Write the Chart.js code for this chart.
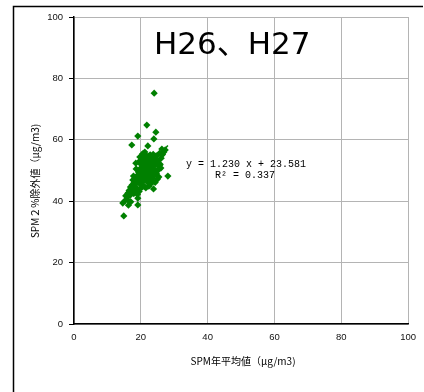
<!DOCTYPE html>
<html>
<head>
<meta charset="utf-8">
<script src="https://cdn.jsdelivr.net/npm/chart.js@4/dist/chart.umd.min.js"></script>
<style>
html,body{margin:0;padding:0;background:#fff;overflow:hidden;}
canvas{display:block;}
</style>
</head>
<body>
<canvas id="c" width="424" height="392" style="width:424px;height:392px;"></canvas>
<script>
// ---- data ----
const chartTitle = "H26、H27";
const xAxisTitle = "SPM年平均値（μg/m3)";
const yAxisTitle = "SPM２%除外値（μg/m3)";
const xTicks = [0, 20, 40, 60, 80, 100];
const yTicks = [0, 20, 40, 60, 80, 100];
const spmAnnualMean = [
  24.0,21.8,24.5,19.1,23.9,17.3,22.1,26.3,28.1,25.4,26.0,23.6,14.9,14.6,15.8,19.1,19.1,17.6,18.5,19.7,
  15.2,15.6,16.0,16.2,16.5,16.8,16.9,17.2,17.4,17.7,17.9,18.0,18.2,18.4,18.5,18.7,18.9,19.0,19.2,19.3,
  19.5,19.6,19.8,19.9,20.0,20.1,20.2,20.3,20.4,20.5,20.6,20.7,20.8,20.9,21.0,21.0,21.1,21.2,21.3,21.4,
  21.5,21.5,21.6,21.7,21.8,21.9,22.0,22.0,22.1,22.2,22.3,22.4,22.5,22.6,22.7,22.8,22.9,23.0,23.1,23.2,
  23.3,23.4,23.5,23.6,23.7,23.8,24.0,24.1,24.2,24.3,24.4,24.6,24.7,24.9,25.0,25.2,25.4,25.6,25.8,26.1,
  26.5,26.9,27.3,19.4,18.6,17.8,20.5,21.2,19.0,20.3,17.0,16.3,22.4,23.8,25.1,25.7,20.6
];
const spm2PctExcluded = [
  75.2,64.8,62.5,61.2,60.3,58.3,58.0,57.0,48.2,47.9,50.8,46.6,35.2,39.4,41.4,41.0,38.8,46.9,52.4,54.4,
  40.1,41.8,40.5,42.7,43.5,41.9,44.6,43.0,45.3,44.2,42.5,46.0,44.8,47.5,43.6,45.9,48.3,44.0,46.8,49.5,
  43.2,47.9,50.6,45.4,48.7,52.0,46.3,50.1,53.3,47.6,49.3,51.6,54.5,45.0,48.2,50.8,53.0,46.9,49.7,52.3,
  55.0,44.3,47.8,51.2,53.8,49.0,50.5,46.2,52.7,54.6,48.4,51.9,47.0,53.4,50.0,55.1,48.9,52.2,45.8,54.0,
  50.7,47.5,53.1,49.6,55.3,51.4,48.3,53.7,50.2,46.1,52.5,54.8,49.1,51.8,47.2,53.2,50.4,55.6,52.0,54.0,
  55.2,56.0,56.7,52.8,50.5,48.2,55.4,56.0,42.2,44.5,39.8,38.7,44.9,44.0,50.2,51.8,46.9
];
const trendSlope = 1.230;
const trendIntercept = 23.581;
const trendR2 = 0.337;
const trendXRange = [14.6, 28.1];

const points = spmAnnualMean.map((x, i) => ({x: x, y: spm2PctExcluded[i]}));
const trendPoints = trendXRange.map(x => ({x: x, y: trendSlope * x + trendIntercept}));

const GREEN = '#008000';

const decor = {
  id: 'decor',
  beforeDraw(chart) {
    const ctx = chart.ctx;
    ctx.save();
    ctx.fillStyle = '#fff';
    ctx.fillRect(0, 0, chart.width, chart.height);
    ctx.restore();
  },
  afterDraw(chart) {
    const ctx = chart.ctx;
    const a = chart.chartArea;
    ctx.save();
    // outer frame (left and top visible)
    ctx.strokeStyle = '#000';
    ctx.lineWidth = 1.5;
    ctx.beginPath();
    ctx.moveTo(13.5, 392);
    ctx.lineTo(13.5, 6.5);
    ctx.lineTo(423, 6.5);
    ctx.stroke();

    // big title
    ctx.fillStyle = '#000';
    ctx.font = '31px "DejaVu Sans", "Noto Sans CJK JP", sans-serif';
    ctx.textAlign = 'left';
    ctx.textBaseline = 'alphabetic';
    ctx.fillText(chartTitle, 154, 54);

    // regression equation
    ctx.font = '10px "Liberation Mono", "DejaVu Sans Mono", monospace';
    ctx.textAlign = 'left';
    ctx.textBaseline = 'middle';
    ctx.fillText('y = ' + trendSlope.toFixed(3) + ' x + ' + trendIntercept.toFixed(3), 186, 164);
    ctx.fillText('R² = ' + trendR2.toFixed(3), 215, 175);

    // axis titles
    ctx.font = '10px "Noto Sans CJK JP", sans-serif';
    ctx.textAlign = 'center';
    ctx.textBaseline = 'middle';
    ctx.fillText(xAxisTitle, (a.left + a.right) / 2 + 2, 361);
    ctx.translate(35, 181);
    ctx.rotate(-Math.PI / 2);
    ctx.fillText(yAxisTitle, 0, 0);
    ctx.restore();
  }
};

new Chart(document.getElementById('c'), {
  type: 'scatter',
  data: {
    datasets: [
      {
        label: 'SPM',
        data: points,
        backgroundColor: GREEN,
        borderColor: GREEN,
        borderWidth: 0,
        pointStyle: 'rectRot',
        pointRadius: 3.6,
        order: 2
      },
      {
        type: 'line',
        label: 'trend',
        data: trendPoints,
        borderColor: GREEN,
        borderWidth: 1.5,
        pointRadius: 0,
        fill: false,
        showLine: true,
        order: 1
      }
    ]
  },
  options: {
    responsive: false,
    animation: false,
    layout: { padding: { top: 17, right: 15, left: 0, bottom: 0 } },
    plugins: { legend: { display: false }, tooltip: { enabled: false } },
    scales: {
      x: {
        type: 'linear',
        min: 0, max: 100,
        afterBuildTicks(s) { s.ticks = xTicks.map(v => ({value: v})); },
        afterFit(s) { s.height = 68; },
        ticks: { font: { size: 9.5, family: '"Liberation Sans", Arial, sans-serif' }, color: '#111', padding: 8, maxRotation: 0 },
        grid: { color: '#b4b4b4', lineWidth: 1, drawTicks: false },
        border: { color: '#000', width: 1.5 }
      },
      y: {
        type: 'linear',
        min: 0, max: 100,
        afterBuildTicks(s) { s.ticks = yTicks.map(v => ({value: v})); },
        afterFit(s) { s.width = 74; },
        ticks: { font: { size: 9.5, family: '"Liberation Sans", Arial, sans-serif' }, color: '#111', padding: 6 },
        grid: { color: '#b4b4b4', lineWidth: 1, drawTicks: true, tickLength: 5, tickColor: '#000' },
        border: { color: '#000', width: 1.5 }
      }
    }
  },
  plugins: [decor]
});
</script>
</body>
</html>
